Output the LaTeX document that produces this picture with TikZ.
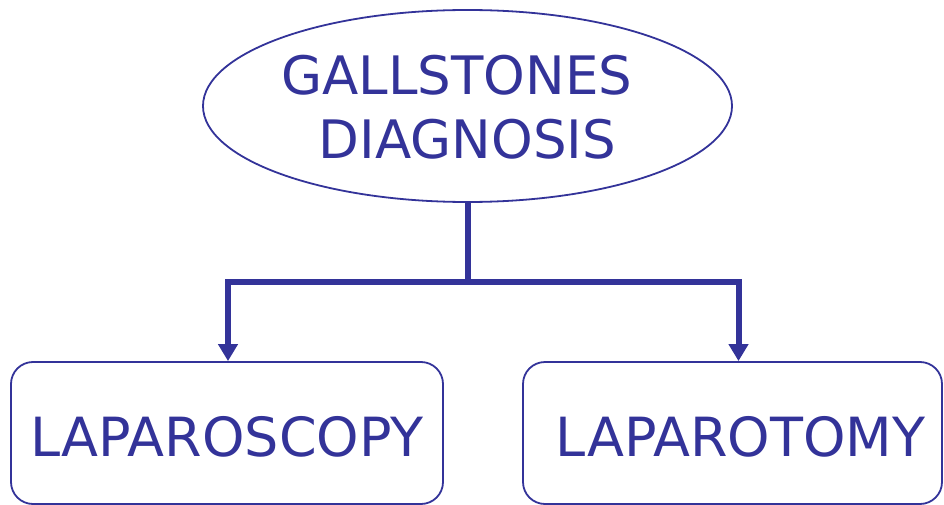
\documentclass[tikz,border=0pt]{standalone}
\usepackage{fontspec}
\setmainfont{DejaVu Sans}
\usetikzlibrary{shapes.geometric,arrows.meta}
\definecolor{navy}{RGB}{51,51,153}
\tikzset{
  bigtext/.style={font=\fontsize{53}{64}\selectfont, text=navy},
  boxtext/.style={font=\fontsize{54}{64}\selectfont, text=navy},
  topic/.style={ellipse, draw=navy, line width=1.8pt, inner sep=0pt,
    minimum width=529pt, minimum height=192pt, align=center, bigtext},
  choice/.style={rectangle, rounded corners=22pt, draw=navy, line width=1.8pt,
    inner sep=0pt, minimum height=142pt, boxtext, text height=47pt, text depth=0pt},
  conn/.style={draw=navy, line width=6pt, line join=miter},
  tipped/.style={conn, -{Triangle[width=19pt,length=17pt]}}
}
\begin{document}
\begin{tikzpicture}[x=1pt,y=-1pt]
  \useasboundingbox (0,0) rectangle (944,505);
  \node[topic, text height=106pt, text depth=0pt] (diag) at (467.5,106)
    {GALLSTONES\kern21pt\\DIAGNOSIS};
  \node[choice, minimum width=432pt] (lap) at (227,433) {LAPAROSCOPY};
  \node[choice, minimum width=419pt] (lapt) at (732.5,433) {\kern16pt LAPAROTOMY};
  \coordinate (split) at (467.5,282);
  \draw[conn] (diag.south) -- (split);
  \draw[tipped] (split) -| ([xshift=1pt]lap.north);
  \draw[tipped] (split) -| ([xshift=6pt]lapt.north);
\end{tikzpicture}
\end{document}
